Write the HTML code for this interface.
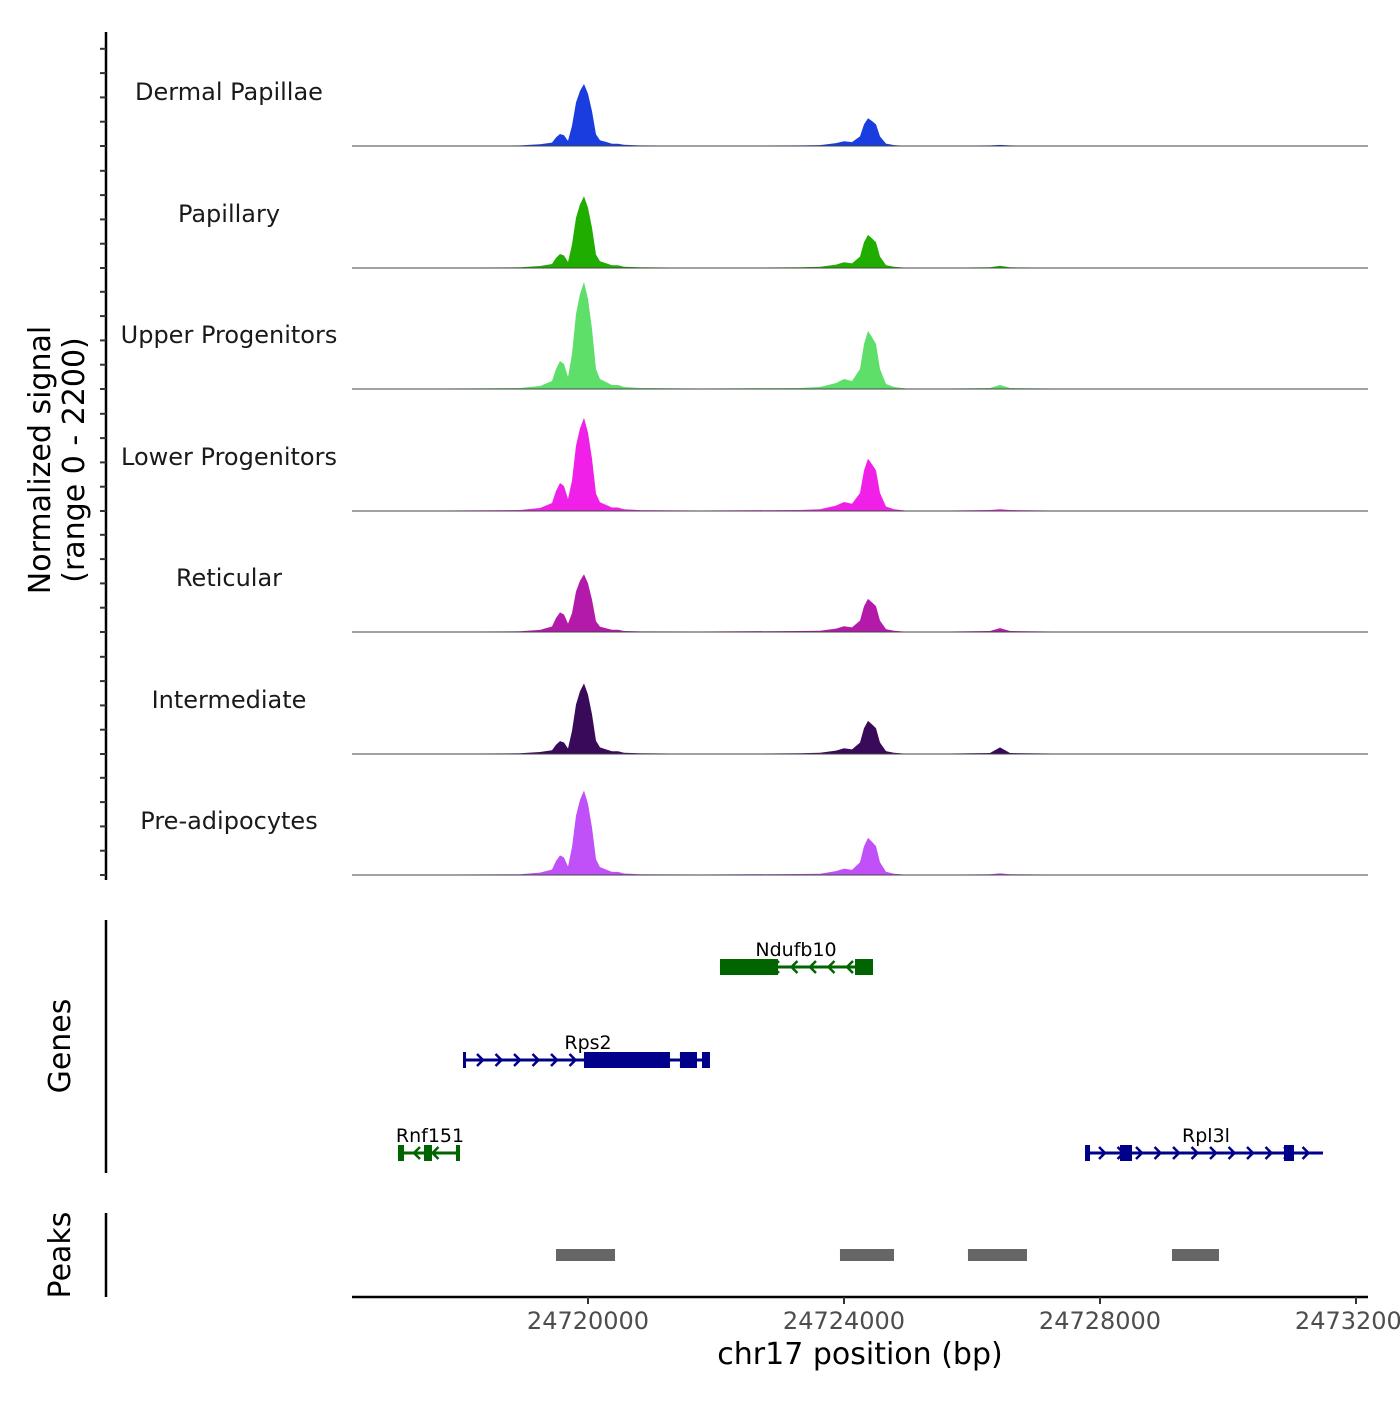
<!DOCTYPE html>
<html><head><meta charset="utf-8"><style>
body{margin:0;background:#fff}
svg text{font-family:"DejaVu Sans","Liberation Sans",sans-serif}
</style></head><body>
<svg id="c" width="1400" height="1400" xmlns="http://www.w3.org/2000/svg"></svg>
<script>
const positions=[24716312,24718937,24719250,24719437,24719500,24719562,24719625,24719687,24719750,24719812,24719875,24719937,24720000,24720062,24720125,24720187,24720281,24720375,24720469,24720562,24720812,24721750,24723312,24723625,24723875,24724000,24724125,24724250,24724312,24724375,24724437,24724500,24724562,24724656,24724781,24725031,24726281,24726437,24726594,24728000,24732187];
const trackNames=["Dermal Papillae","Papillary","Upper Progenitors","Lower Progenitors","Reticular","Intermediate","Pre-adipocytes"];
const trackColors=["#1a3de0","#1fad00","#5ddf6a","#f020e8","#b41aaa","#3a0a5a","#c050f8"];
const dermal=[0,10,30,62,156,218,195,93,368,788,998,1123,945,630,210,105,74,42,42,21,10,5,10,17,52,87,70,174,391,504,452,391,174,44,17,0,10,20,10,0,0];
const papillary=[0,12,36,72,181,253,226,108,425,910,1152,1298,1091,728,243,121,85,48,48,24,12,6,12,21,62,103,83,206,465,599,536,465,206,52,21,0,12,40,12,0,0];
const upper=[0,18,54,145,362,507,453,217,634,1358,1720,1937,1629,1086,362,181,127,72,72,36,18,9,18,36,109,181,145,362,815,1050,941,815,362,91,36,0,18,72,18,0,0];
const lower=[0,18,54,145,362,507,453,217,552,1181,1496,1685,1417,945,315,157,110,63,63,31,16,9,18,32,98,163,130,326,734,945,847,734,326,82,32,0,18,30,18,0,0];
const reticular=[0,12,38,100,253,355,317,152,342,733,929,1046,880,586,195,98,69,39,39,19,10,9,18,21,62,103,83,206,465,599,536,465,206,52,21,0,18,70,18,0,0];
const intermediate=[0,12,36,67,167,233,208,100,418,896,1135,1278,1075,717,239,119,84,48,48,24,12,6,12,21,62,103,83,206,465,599,536,465,206,52,21,0,18,120,18,0,0];
const preadip=[0,14,43,100,253,355,317,152,501,1073,1359,1530,1287,858,286,143,100,57,57,28,14,9,18,23,70,116,93,232,522,672,602,522,232,58,23,0,14,30,14,0,0];
const xTicks=[24720000,24724000,24728000,24732000];
const xTickLabels=["24720000","24724000","24728000","24732000"];
const genes=[
 {name:"Ndufb10",strand:-1,start:24722062,end:24724453,exons:[[24722062,24722969],[24724172,24724453]],row:0,color:"#006400"},
 {name:"Rps2",strand:1,start:24718047,end:24721906,exons:[[24718047,24718060],[24719937,24721281],[24721437,24721703],[24721781,24721906]],row:1,color:"#00008b"},
 {name:"Rnf151",strand:-1,start:24717031,end:24718000,exons:[[24717031,24717125],[24717437,24717562],[24717937,24718000]],row:2,color:"#006400"},
 {name:"Rpl3l",strand:1,start:24727766,end:24731484,exons:[[24727766,24727844],[24728312,24728500],[24730875,24731031]],row:2,color:"#00008b"}
];
const peakStarts=[24719500,24723937,24725937,24729125];
const peakEnds=[24720422,24724781,24726859,24729859];

const series=[dermal,papillary,upper,lower,reticular,intermediate,preadip];
const svg=document.getElementById('c');
const NS="http://www.w3.org/2000/svg";
const X0=24716312.5,PX0=352,SC=0.064;
const xs=v=>PX0+(v-X0)*SC;
const baselines=[146,268,389,511,632,754,875];
const TH=121.5,YMAX=2200;
const ys=(v,b)=>b-v/YMAX*TH;
function mk(t,a,txt){const e=document.createElementNS(NS,t);for(const k in a)e.setAttribute(k,a[k]);if(txt!=null)e.textContent=txt;svg.appendChild(e);return e;}

series.forEach((s,i)=>{
 const b=baselines[i];
 let d=`M${xs(positions[0])},${b}`;
 positions.forEach((p,j)=>{d+=` L${xs(p).toFixed(1)},${ys(s[j],b).toFixed(1)}`;});
 d+=` L${xs(positions[positions.length-1])},${b} Z`;
 const a=mk('path',{d:d,fill:trackColors[i]});
 
 
 const l=mk('line',{x1:352,x2:1368,y1:b,y2:b,stroke:'#444','stroke-width':1});
 
 
 const t=mk('text',{x:229,y:b-46,'text-anchor':'middle','font-size':24,fill:'#1a1a1a'},trackNames[i]);
 
 
});
let ax=mk('line',{x1:106,x2:106,y1:32,y2:880,stroke:'#000','stroke-width':2.5});


for(let i=0;i<7;i++){for(let k=0;k<5;k++){const y=baselines[i]-k*24.3;const tk=mk('line',{x1:100,x2:106,y1:y,y2:y,stroke:'#333','stroke-width':2});
 
 }}
let yt=mk('text',{transform:'translate(52,460) rotate(-90)','text-anchor':'middle','font-size':30,fill:'#000'});


yt.innerHTML='<tspan x="0" dy="-2">Normalized signal</tspan><tspan x="0" dy="34">(range 0 - 2200)</tspan>';
let ga=mk('line',{x1:106,x2:106,y1:920,y2:1173,stroke:'#000','stroke-width':2.5});


let gt=mk('text',{transform:'translate(70,1046) rotate(-90)','text-anchor':'middle','font-size':30},'Genes');


const rowY=[967,1060,1153];
genes.forEach(g=>{
 const y=rowY[g.row];
 const x1=xs(g.start),x2=xs(g.end);
 const ln=mk('line',{x1:x1,x2:x2,y1:y,y2:y,stroke:g.color,'stroke-width':3});
 
 
 for(let x=x1+18;x<x2-8;x+=18.5){const d=g.strand>0?`M${x-4},${y-6} L${x+2},${y} L${x-4},${y+6}`:`M${x+4},${y-6} L${x-2},${y} L${x+4},${y+6}`;
  const ar=mk('path',{d:d,stroke:g.color,'stroke-width':2.5,fill:'none'});
  
  }
 g.exons.forEach(e=>{const ex=mk('rect',{x:xs(e[0]),y:y-8,width:Math.max(3,xs(e[1])-xs(e[0])),height:16,fill:g.color});
  
  });
 const lx={Ndufb10:796,Rps2:588,Rnf151:430,Rpl3l:1206}[g.name];
 const lb=mk('text',{x:lx,y:y-11,'text-anchor':'middle','font-size':19},g.name);
 
 
});
let pa=mk('line',{x1:106,x2:106,y1:1213,y2:1297,stroke:'#000','stroke-width':2.5});


let pt=mk('text',{transform:'translate(70,1255) rotate(-90)','text-anchor':'middle','font-size':30},'Peaks');


peakStarts.forEach((s,i)=>{const r=mk('rect',{x:xs(s),y:1249,width:xs(peakEnds[i])-xs(s),height:12,fill:'#666'});
 
 });
let xa=mk('line',{x1:352,x2:1368,y1:1297,y2:1297,stroke:'#000','stroke-width':2.5});


xTicks.forEach((t,i)=>{const x=xs(t);
 const tk=mk('line',{x1:x,x2:x,y1:1297,y2:1304,stroke:'#333','stroke-width':2});
 
 
 const lb=mk('text',{x:x,y:1329,'text-anchor':'middle','font-size':24,fill:'#4d4d4d'},xTickLabels[i]);
 
 });
let xt=mk('text',{x:860,y:1364,'text-anchor':'middle','font-size':30},'chr17 position (bp)');


</script>
</body></html>
